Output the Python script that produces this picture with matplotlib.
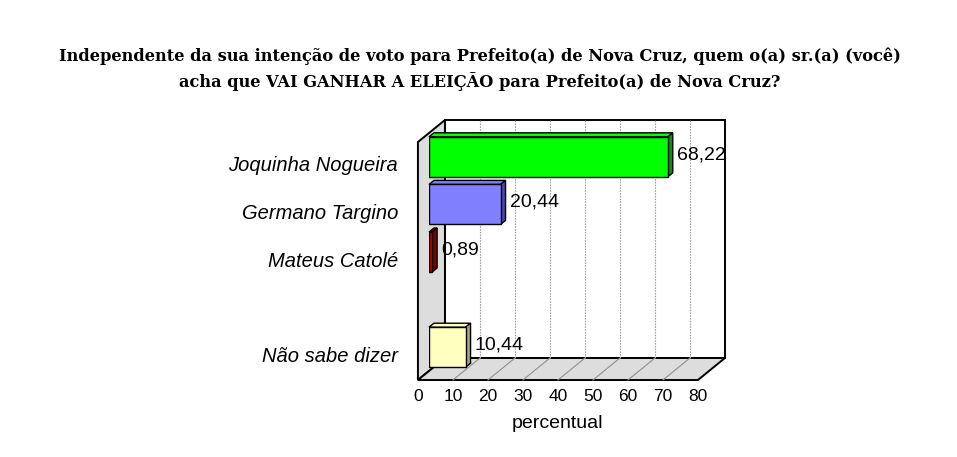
"""
Graphique en barres horizontales pseudo-3D (style Excel) : qui vai ganhar a eleição.
"""

import numpy as np
import matplotlib
matplotlib.use("Agg")
import matplotlib.pyplot as plt
from matplotlib.patches import Polygon
from matplotlib.transforms import offset_copy

# --- Données -----------------------------------------------------------------
categories = ["Joquinha Nogueira", "Germano Targino", "Mateus Catolé", "", "Não sabe dizer"]
values = [68.22, 20.44, 0.89, np.nan, 10.44]
value_labels = ["68,22", "20,44", "0,89", "", "10,44"]
x_ticks = [0, 10, 20, 30, 40, 50, 60, 70, 80]
x_label = "percentual"
title = ("Independente da sua intenção de voto para Prefeito(a) de Nova Cruz, quem o(a) sr.(a) (você)\n"
         "acha que VAI GANHAR A ELEIÇÃO para Prefeito(a) de Nova Cruz?")

face_colors = ["#00FF00", "#8080FF", "#CC0000", "none", "#FFFFC0"]
side_colors = ["#009900", "#4B4BA8", "#7A0000", "none", "#A8A880"]

# --- Géométrie (pixels) ------------------------------------------------------
W, H, DPI = 957, 457, 100
AX_LEFT, AX_RIGHT, AX_TOP, AX_BOTTOM = 429, 709, 133, 371   # plan des barres
DEPTH_X, DEPTH_Y = 27, 22       # profondeur totale du cadre
BAR_PLANE = 0.41                # position des barres dans la profondeur
BAR_DX, BAR_DY = 5, 4           # épaisseur 3D des barres
X_MAX = 80
N = len(categories)

fig = plt.figure(figsize=(W / DPI, H / DPI), dpi=DPI)
ax = fig.add_axes([AX_LEFT / W, 1 - AX_BOTTOM / H,
                   (AX_RIGHT - AX_LEFT) / W, (AX_BOTTOM - AX_TOP) / H])
ax.set_xlim(0, X_MAX)
ax.set_ylim(N - 0.5, -0.5)
ax.axis("off")

px_x = (AX_RIGHT - AX_LEFT) / X_MAX
px_y = (AX_BOTTOM - AX_TOP) / N


def pt(x, y, t):
    """Point (x, y) projeté à la profondeur t (0 = devant, 1 = fond)."""
    return (x + (t - BAR_PLANE) * DEPTH_X / px_x,
            y - (t - BAR_PLANE) * DEPTH_Y / px_y)


y_lo, y_hi = N - 0.5, -0.5
frame_style = dict(edgecolor="black", linewidth=1.4, clip_on=False, joinstyle="miter")

# mur du fond
ax.add_patch(Polygon([pt(0, y_lo, 1), pt(X_MAX, y_lo, 1), pt(X_MAX, y_hi, 1), pt(0, y_hi, 1)],
                     facecolor="white", zorder=1, **frame_style))
# mur gauche
ax.add_patch(Polygon([pt(0, y_lo, 0), pt(0, y_hi, 0), pt(0, y_hi, 1), pt(0, y_lo, 1)],
                     facecolor="#DDDDDD", zorder=1, **frame_style))
# plancher
ax.add_patch(Polygon([pt(0, y_lo, 0), pt(X_MAX, y_lo, 0), pt(X_MAX, y_lo, 1), pt(0, y_lo, 1)],
                     facecolor="#DDDDDD", zorder=1, **frame_style))

# quadrillage
for xv in x_ticks[1:-1]:
    (x0, y0), (x1, y1) = pt(xv, y_lo, 1), pt(xv, y_hi, 1)
    ax.plot([x0, x1], [y0, y1], color="#A0A0A0", lw=0.8, ls=(0, (1.5, 1)), zorder=2, clip_on=False)
    (x0, y0), (x1, y1) = pt(xv, y_lo, 0), pt(xv, y_lo, 1)
    ax.plot([x0, x1], [y0, y1], color="#909090", lw=0.8, zorder=2, clip_on=False)

# barres
ypos = np.arange(N)
mask = ~np.isnan(values)
vals = np.array(values)[mask]
bars = ax.barh(ypos[mask], vals, height=0.84,
               color=np.array(face_colors)[mask], edgecolor="black", linewidth=1.0, zorder=4)

ddx, ddy = BAR_DX / px_x, -BAR_DY / px_y
for bar, fc, sc in zip(bars, np.array(face_colors)[mask], np.array(side_colors)[mask]):
    x0, y0 = bar.get_x(), bar.get_y()
    x1, y1 = x0 + bar.get_width(), y0 + bar.get_height()
    # face du dessus (y0 = haut car axe inversé)
    ax.add_patch(Polygon([(x0, y0), (x1, y0), (x1 + ddx, y0 + ddy), (x0 + ddx, y0 + ddy)],
                         facecolor=fc, edgecolor="black", linewidth=1.0, zorder=3, clip_on=False))
    # face latérale
    ax.add_patch(Polygon([(x1, y0), (x1 + ddx, y0 + ddy), (x1 + ddx, y1 + ddy), (x1, y1)],
                         facecolor=sc, edgecolor="black", linewidth=1.0, zorder=3, clip_on=False))

# étiquettes de valeur
for yv, v, lab in zip(ypos[mask], vals, np.array(value_labels)[mask]):
    tr = offset_copy(ax.transData, fig=fig, x=9, y=2, units="dots")
    ax.text(v, yv, lab, transform=tr, ha="left", va="center",
            fontsize=14, family="Liberation Sans", zorder=5)

# étiquettes des catégories (plan de devant)
for yv, name in zip(ypos, categories):
    if not name:
        continue
    x, y = pt(0, yv, 0)
    tr = offset_copy(ax.transData, fig=fig, x=-20, y=0, units="dots")
    ax.text(x, y, name, transform=tr, ha="right", va="center",
            fontsize=14.5, style="italic", family="Liberation Sans")

# graduations de l'axe X (plan de devant)
for xv in x_ticks:
    x, y = pt(xv, y_lo, 0)
    tr = offset_copy(ax.transData, fig=fig, x=0, y=-16, units="dots")
    ax.text(x, y, str(xv), transform=tr, ha="center", va="center",
            fontsize=12.5, family="Liberation Sans")

x, y = pt(X_MAX / 2, y_lo, 0)
tr = offset_copy(ax.transData, fig=fig, x=0, y=-43, units="dots")
ax.text(x, y, x_label, transform=tr, ha="center", va="center",
        fontsize=14, family="Liberation Sans")

fig.text(480 / W, 1 - 69 / H, title, ha="center", va="center", fontsize=11.7,
         fontweight="bold", family="DejaVu Serif", linespacing=1.5)

fig.savefig("out.png", dpi=DPI)
plt.close(fig)
